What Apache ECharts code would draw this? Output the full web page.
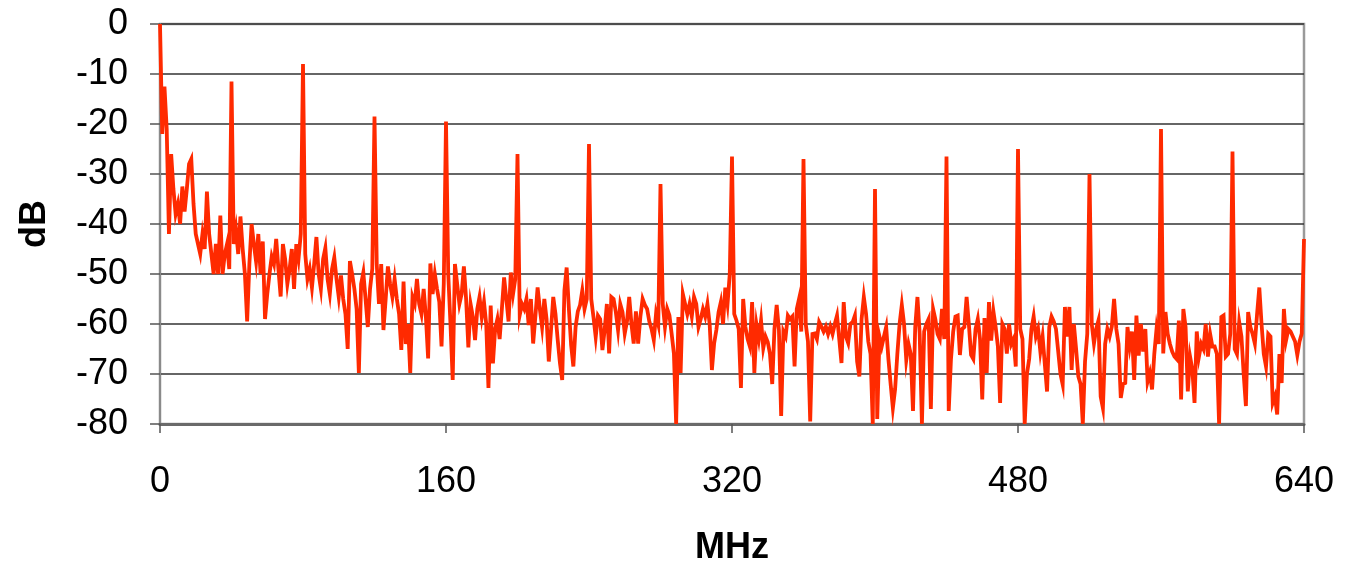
<!DOCTYPE html>
<html>
<head>
<meta charset="utf-8">
<script src="https://cdn.jsdelivr.net/npm/echarts@6/dist/echarts.min.js"></script>
<style>
html,body{margin:0;padding:0;background:#fff;}
#chart{width:1353px;height:571px;}
</style>
</head>
<body>
<div id="chart"></div>
<script>
// Frequency sampling step (MHz) of the spectrum; 513 samples from 0 to 640 MHz
const freqStepMHz = 1.25;
const xTickLabels = [0, 160, 320, 480, 640];
const yTickLabels = [0, -10, -20, -30, -40, -50, -60, -70, -80];

// dB values, one array per 40 MHz band (first value of each band is the spur)
const band0 = [0, -22, -12.5, -21, -42, -26, -33, -38, -36, -40, -32.5, -37.5, -33, -28, -27, -36, -42, -44, -46, -42, -45, -33.5, -42, -46, -50, -44, -50, -38.3, -50, -46, -44, -49];
const band1 = [-11.5, -44, -41, -46, -38.5, -45, -50, -59.5, -48, -40, -44, -47.5, -42, -50, -43.5, -59, -54, -50, -46.5, -48, -43, -49, -54.5, -44, -47, -52, -49, -45, -53, -44, -47, -42];
const band2 = [-8, -46, -51, -49, -52.7, -48, -42.6, -50, -53, -47, -44.8, -51, -54, -49, -46.7, -51, -54.6, -50.3, -55, -58, -65, -47.4, -50, -53, -57, -69.8, -52, -49.7, -55, -60.6, -53, -49];
const band3 = [-18.5, -48, -56, -48, -61.2, -55, -48.5, -52, -54.6, -51, -55, -58, -65.2, -51.5, -64, -60, -69.8, -54.6, -56, -51, -56, -58, -53, -58.6, -66.9, -47.9, -54, -50, -53, -55.6, -64.5, -52];
const band4 = [-19.5, -50, -60, -71.2, -48, -52, -56, -54, -48.5, -55, -64.7, -56, -58.5, -63.2, -57, -54.6, -58.6, -55.6, -60, -72.8, -56.3, -67.9, -61, -59, -63, -57, -50.7, -55, -59.5, -49.7, -54, -51];
const band5 = [-26, -58.2, -56, -57, -55, -60.2, -55, -63.9, -58.5, -52.7, -57, -60.6, -55, -59, -67.5, -61.2, -54.6, -58, -63.2, -67.8, -71.2, -53.3, -48.7, -57, -64.2, -68.5, -60.6, -57.5, -56.2, -53.3, -57, -55];
const band6 = [-24, -55, -58.6, -62.6, -58.3, -59, -65.2, -61.2, -56, -65.9, -54.6, -55, -57.6, -61.2, -56, -57.6, -61.9, -59.5, -54.6, -60, -63.9, -57.5, -63.9, -58.5, -55, -56.2, -57, -59.5, -61, -63.2, -58, -60];
const band7 = [-32, -56, -60.6, -57, -58.3, -62, -65.9, -80, -58.6, -69.8, -54, -56, -58, -56, -58.5, -54.6, -56, -60.6, -59, -57, -58.5, -56, -60, -69.2, -63.9, -61.2, -57.6, -55.6, -60, -52.7, -56, -50];
const band8 = [-26.5, -58, -59.3, -61, -72.8, -55, -60.6, -63, -64.5, -55.6, -69.8, -60.2, -63, -59.3, -64.8, -62.5, -63.6, -66, -72, -61, -56.2, -61.2, -78.4, -61.5, -62.5, -58.3, -59, -58.5, -68.5, -57, -55, -61.5];
const band9 = [-27, -60, -63.5, -79.5, -62, -61.9, -63, -59.6, -60.5, -61.5, -60.5, -62, -60.5, -62, -60, -58.3, -63, -67.8, -55.6, -62.5, -63.8, -60, -59.6, -58.3, -67.5, -70.5, -59, -54.6, -58, -63.5, -66, -80];
const band10 = [-33, -79, -62.5, -64.5, -62.5, -60.6, -67, -72, -76.8, -73, -66, -60, -56.2, -60, -67.2, -64, -66, -77.4, -60.6, -54.6, -62, -80, -61.5, -60, -59, -77, -57, -59, -62, -63, -57, -63];
const band11 = [-26.5, -77.4, -67, -61.5, -58.5, -58.3, -66.2, -61, -60.6, -54.6, -60, -66.2, -67, -61, -59, -63, -75.1, -58.8, -69.8, -55.6, -63.3, -57.5, -60.6, -64.5, -75.8, -60, -61, -65.9, -60, -64, -63, -68.5];
const band12 = [-25, -61, -63, -80, -70, -67, -61, -58.5, -62.5, -61, -65.5, -62.5, -68, -73.5, -60.6, -58.5, -59.5, -61, -65.5, -70, -72.1, -56.6, -62.5, -56.6, -69.2, -60, -65, -70.5, -72, -80, -67.5, -62];
const band13 = [-30, -60, -63.9, -61, -59.3, -74.5, -76.8, -64, -61, -62.5, -60.5, -55, -61, -64, -74.8, -72, -71.8, -60.6, -64.5, -61.5, -71.2, -58.3, -66.3, -60, -65.5, -61, -71.5, -69.8, -73.1, -66, -61, -64];
const band14 = [-21, -65.9, -57.6, -62, -64, -65.5, -66.5, -67, -59.3, -75.1, -57, -60.6, -73.5, -66.5, -69, -75.8, -61.5, -66.5, -64, -65, -60, -66.5, -62, -64.5, -64.5, -66, -80, -58.6, -58.3, -66.5, -66, -62];
const band15 = [-25.5, -65, -66, -59.6, -62.5, -70, -76.4, -57.6, -60.6, -62, -63.9, -58, -52.7, -60, -66, -68.5, -62, -62.5, -75.8, -74.5, -78.1, -66, -71.8, -57, -63.2, -61, -61.5, -62.5, -63.5, -66.2, -63.5, -61.9, -43];

const dbValues = [].concat(band0, band1, band2, band3, band4, band5, band6, band7,
  band8, band9, band10, band11, band12, band13, band14, band15);
const seriesData = dbValues.map((v, i) => [i * freqStepMHz, v]);

const FONT = 'Liberation Sans, Arial, sans-serif';
const chart = echarts.init(document.getElementById('chart'), null, {renderer: 'canvas'});
chart.setOption({
  animation: false,
  backgroundColor: '#ffffff',
  grid: {
    left: 160, right: 49, top: 24, bottom: 143,
    show: true, borderColor: '#9a9a9a', borderWidth: 2.5, backgroundColor: 'transparent'
  },
  xAxis: {
    type: 'value',
    min: xTickLabels[0], max: xTickLabels[xTickLabels.length - 1], interval: 160,
    name: 'MHz', nameLocation: 'middle', nameGap: 106,
    nameTextStyle: {fontSize: 36, fontWeight: 'bold', color: '#000', fontFamily: FONT},
    axisLine: {show: true, onZero: false, lineStyle: {color: '#6a6a6a', width: 3}},
    axisTick: {show: true, inside: false, length: 9, lineStyle: {color: '#555', width: 1.5}},
    axisLabel: {fontSize: 36, color: '#000', fontFamily: FONT, margin: 40},
    splitLine: {show: false}
  },
  yAxis: {
    type: 'value',
    min: yTickLabels[yTickLabels.length - 1], max: yTickLabels[0], interval: 10,
    name: 'dB', nameLocation: 'middle', nameGap: 107, nameRotate: 90,
    nameTextStyle: {fontSize: 36, fontWeight: 'bold', color: '#000', fontFamily: FONT},
    axisLine: {show: true, lineStyle: {color: '#8a8a8a', width: 2}},
    axisTick: {show: true, inside: false, length: 10, lineStyle: {color: '#555', width: 1.5}},
    axisLabel: {fontSize: 36, color: '#000', fontFamily: FONT, margin: 32},
    splitLine: {show: true, lineStyle: {color: '#333', width: 1.5}}
  },
  series: [{
    type: 'line',
    data: seriesData,
    showSymbol: false,
    symbol: 'none',
    lineStyle: {color: '#ff2a00', width: 3.8, join: 'miter'},
    itemStyle: {color: '#ff2a00'},
    clip: true,
    z: 3
  }]
});
</script>
</body>
</html>
